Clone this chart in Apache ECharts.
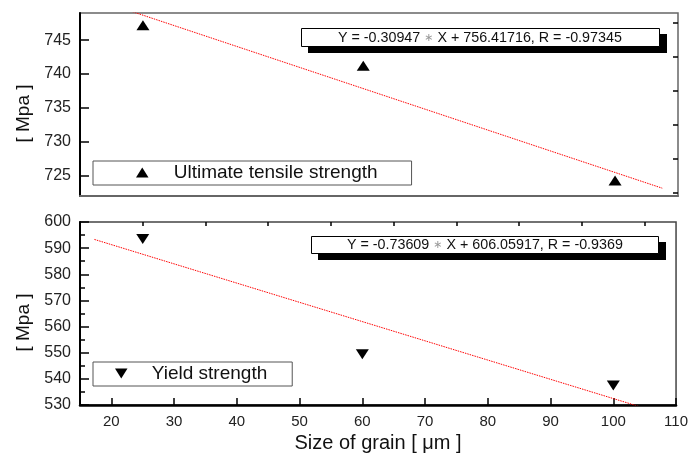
<!DOCTYPE html>
<html>
<head>
<meta charset="utf-8">
<script src="https://cdn.jsdelivr.net/npm/echarts@6/dist/echarts.min.js"></script>
<style>
html,body{margin:0;padding:0;background:#fff;}
#chart{width:691px;height:459px;}
</style>
</head>
<body>
<div id="chart"></div>
<script>
// ---- data ----
var grainSize = [25, 60, 100];
var utsValues = [747.2, 741.2, 724.3];
var ysValues = [593.5, 549.4, 537.5];
var fitX = [17.3, 107.5];
var utsFitY = [751.06, 723.15];
var ysFitY = [593.33, 526.94];
var xMajorTicks = [20, 30, 40, 50, 60, 70, 80, 90, 100, 110];
var xMinorTicks = [25, 35, 45, 55, 65, 75, 85, 95, 105];
var utsMajorTicks = [725, 730, 735, 740, 745];
var utsMinorTicks = [722.5, 727.5, 732.5, 737.5, 742.5, 747.5];
var utsName = 'Ultimate tensile strength';
var ysName = 'Yield strength';
var utsEq = ['Y = -0.30947 ', '∗', ' X + 756.41716, R = -0.97345'];
var ysEq = ['Y = -0.73609 ', '∗', ' X + 606.05917, R = -0.9369'];

function pairs(xs, ys) { return xs.map(function (x, i) { return [x, ys[i]]; }); }

var FONT = '"Liberation Sans", Arial, sans-serif';
var chart = echarts.init(document.getElementById('chart'));

function eqTitle(parts, left, top, pad) {
  return {
    text: '{a|' + parts[0] + '}{s|' + parts[1] + '}{a|' + parts[2] + '}',
    left: left, top: top, z: 10,
    padding: pad,
    backgroundColor: '#fff',
    borderColor: '#000',
    borderWidth: 1,
    textStyle: {
      fontWeight: 'normal',
      rich: {
        a: { fontFamily: FONT, fontSize: 14.3, fontWeight: 'normal', color: '#111', lineHeight: 14 },
        s: { fontFamily: '"DejaVu Sans", sans-serif', fontSize: 11, fontWeight: 'normal', color: '#999', lineHeight: 14 }
      }
    }
  };
}

function legendCfg(name, icon, left, top, pad, gap) {
  return {
    data: [{ name: name, icon: icon }], left: left, top: top,
    orient: 'horizontal',
    padding: pad,
    itemWidth: 13, itemHeight: 10,
    backgroundColor: '#fff', borderColor: '#555', borderWidth: 1, borderRadius: 0,
    formatter: function (n) { return '{g| }{t|' + n + '}'; },
    textStyle: {
      fontFamily: FONT, fontSize: 19, color: '#111', lineHeight: 18,
      rich: {
        g: { width: gap, fontSize: 19, lineHeight: 18 },
        t: { fontFamily: FONT, fontSize: 19, color: '#111', lineHeight: 18 }
      }
    }
  };
}

var option = {
  animation: false,
  backgroundColor: '#fff',
  graphic: [
    { type: 'rect', z: 5, silent: true, shape: { x: 308, y: 34, width: 359, height: 19 }, style: { fill: '#000' } },
    { type: 'rect', z: 5, silent: true, shape: { x: 318, y: 242, width: 348, height: 18 }, style: { fill: '#000' } }
  ],
  title: [
    eqTitle(utsEq, 301, 28, [3, 38, 2, 37]),
    eqTitle(ysEq, 311, 236, [2, 36, 2, 36])
  ],
  legend: [
    legendCfg(utsName, 'path://M1,0 L2,1.6 L0,1.6 Z', 93, 161, [2, 34, 3, 43], 20),
    legendCfg(ysName, 'path://M0,0 L2,0 L1,1.6 Z', 93, 362, [2, 25, 3, 22], 19)
  ],
  grid: [
    { left: 80, right: 13, top: 13, height: 183, show: true, borderColor: '#666', borderWidth: 1.5, backgroundColor: 'transparent' },
    { left: 80, right: 13, top: 222, height: 183, show: true, borderColor: '#444', borderWidth: 1.5, backgroundColor: 'transparent' }
  ],
  xAxis: [
    {
      gridIndex: 0, type: 'value', min: 15, max: 110,
      axisLine: { show: true, lineStyle: { color: '#666', width: 2 } },
      axisTick: { show: false }, axisLabel: { show: false }, splitLine: { show: false }
    },
    {
      gridIndex: 1, type: 'value', min: 15, max: 110,
      name: 'Size of grain [ μm ]', nameLocation: 'middle', nameGap: 28,
      nameTextStyle: { fontFamily: FONT, fontSize: 20, color: '#111' },
      axisLine: { show: true, onZero: false, lineStyle: { color: '#000', width: 2.5 } },
      axisTick: { show: true, inside: true, length: 7, customValues: xMajorTicks, lineStyle: { color: '#000', width: 1.5 } },
      axisLabel: { show: true, customValues: xMajorTicks, margin: 9, fontFamily: FONT, fontSize: 15, color: '#222' },
      splitLine: { show: false }
    },
    {
      gridIndex: 1, type: 'value', min: 15, max: 110,
      axisLine: { show: false },
      axisTick: { show: true, inside: true, length: 4, customValues: xMinorTicks, lineStyle: { color: '#000', width: 1.5 } },
      axisLabel: { show: false }, splitLine: { show: false }
    }
  ],
  yAxis: [
    {
      gridIndex: 0, type: 'value', min: 722, max: 749,
      name: '[ Mpa ]', nameLocation: 'middle', nameGap: 46, nameRotate: 90,
      nameTextStyle: { fontFamily: FONT, fontSize: 19, color: '#111', padding: [0, 18, 0, 0] },
      axisLine: { show: true, onZero: false, lineStyle: { color: '#000', width: 2 } },
      axisTick: { show: true, inside: true, length: 9, customValues: utsMajorTicks, lineStyle: { color: '#000', width: 1.5 } },
      axisLabel: { show: true, customValues: utsMajorTicks, margin: 9, fontFamily: FONT, fontSize: 16, color: '#222' },
      splitLine: { show: false }
    },
    {
      gridIndex: 0, type: 'value', min: 722, max: 749,
      axisLine: { show: false },
      axisTick: { show: true, inside: true, length: 5, customValues: utsMinorTicks, lineStyle: { color: '#000', width: 1.5 } },
      axisLabel: { show: false }, splitLine: { show: false }
    },
    {
      gridIndex: 1, type: 'value', min: 530, max: 600, interval: 10,
      name: '[ Mpa ]', nameLocation: 'middle', nameGap: 46, nameRotate: 90,
      nameTextStyle: { fontFamily: FONT, fontSize: 19, color: '#111', padding: [0, 18, 0, 0] },
      axisLine: { show: true, onZero: false, lineStyle: { color: '#000', width: 2 } },
      axisTick: { show: true, inside: true, length: 9, lineStyle: { color: '#000', width: 1.5 } },
      minorTick: { show: true, splitNumber: 2, length: 5, lineStyle: { color: '#000', width: 1.5 } },
      axisLabel: { show: true, margin: 9, fontFamily: FONT, fontSize: 16, color: '#222' },
      splitLine: { show: false }, minorSplitLine: { show: false }
    }
  ],
  series: [
    {
      name: utsName, type: 'scatter', xAxisIndex: 0, yAxisIndex: 0,
      symbol: 'triangle', symbolSize: [13, 10],
      itemStyle: { color: '#000', opacity: 1 },
      data: pairs(grainSize, utsValues), z: 5
    },
    {
      name: 'utsFit', type: 'line', xAxisIndex: 0, yAxisIndex: 0,
      showSymbol: false, symbol: 'none', clip: true, silent: true,
      lineStyle: { color: '#ff0000', width: 1, type: [1.5, 1] },
      data: pairs(fitX, utsFitY), z: 3
    },
    {
      name: ysName, type: 'scatter', xAxisIndex: 1, yAxisIndex: 2,
      symbol: 'triangle', symbolRotate: 180, symbolSize: [13, 10],
      itemStyle: { color: '#000', opacity: 1 },
      data: pairs(grainSize, ysValues), z: 5
    },
    {
      name: 'ysFit', type: 'line', xAxisIndex: 1, yAxisIndex: 2,
      showSymbol: false, symbol: 'none', clip: true, silent: true,
      lineStyle: { color: '#ff0000', width: 1, type: [1.5, 1] },
      data: pairs(fitX, ysFitY), z: 3
    }
  ]
};
chart.setOption(option);
</script>
</body>
</html>
